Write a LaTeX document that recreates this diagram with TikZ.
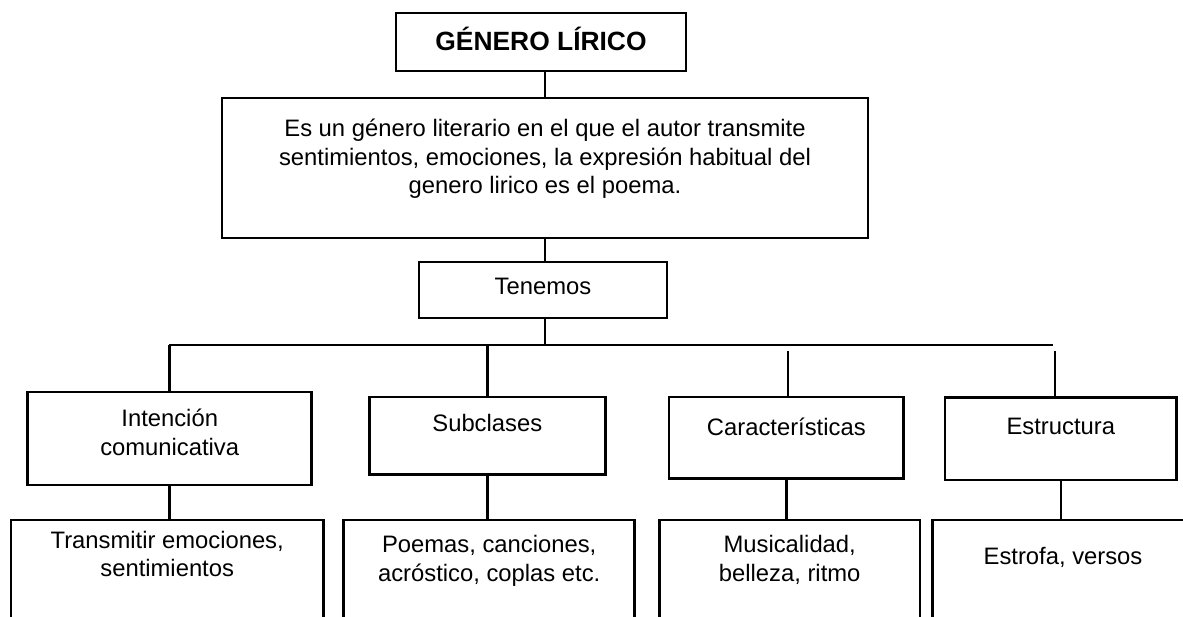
\documentclass[tikz,border=0pt]{standalone}
\usepackage{fontspec}
\setmainfont{Liberation Sans}
\newcommand{\bajar}[1]{\rule[-#1]{0pt}{#1}}

\begin{document}
\begin{tikzpicture}[x=0.5pt, y=-0.5pt, line width=1.3pt,
    caja/.style={draw, rectangle, align=center, inner sep=0pt,
        font=\fontsize{11.9}{14.2}\selectfont}]
\useasboundingbox (0,0) rectangle (1183,616);
\clip (0,0) rectangle (1183,616);

\node [caja, font=\fontsize{13.2}{15}\selectfont\bfseries, minimum width=145pt, minimum height=29pt] (titulo) at (541,42) {GÉNERO LÍRICO\bajar{3.7pt}};
\node [caja, minimum width=323pt, minimum height=70pt] (def) at (545,168)
    {Es un género literario en el que el autor transmite\\
     sentimientos, emociones, la expresión habitual del\\
     genero lirico es el poema.\bajar{11.55pt}};
\node [caja, minimum width=124pt, minimum height=28pt] (ten) at (543,290) {Tenemos\bajar{3.45pt}};

% segundo nivel
\node [caja, minimum width=142pt, minimum height=46.5pt] (int) at (169.7,438.5) {Intención\\comunicativa\bajar{6.25pt}};
\node [caja, minimum width=118pt, minimum height=38.7pt] (sub) at (487.3,435.7) {Subclases\bajar{12.5pt}};
\node [caja, minimum width=117.4pt, minimum height=40.7pt] (car) at (786.3,437.7) {Características\bajar{11.35pt}};
\node [caja, minimum width=115.9pt, minimum height=41.4pt] (est) at (1060.8,438.7) {Estructura\bajar{12.2pt}};

% tercer nivel
\node [caja, minimum width=156.2pt, minimum height=60pt] (int2) at (167.2,580) {Transmitir emociones,\\sentimientos\bajar{26.3pt}};
\node [caja, minimum width=145.5pt, minimum height=60pt] (sub2) at (489.2,580) {Poemas, canciones,\\acróstico, coplas etc.\bajar{21.55pt}};
\node [caja, minimum width=130.4pt, minimum height=60pt] (car2) at (789.7,580) {Musicalidad,\\belleza, ritmo\bajar{21.55pt}};
\node [caja, minimum width=130.3pt, minimum height=60pt] (est2) at (1063,580) {Estrofa, versos\bajar{23.65pt}};

\coordinate (busL) at (169,345);
\coordinate (busR) at (1053,345);
\coordinate (carTop) at (788,351);
\coordinate (estTop) at (1055,351);

\draw (def.north) -- (def.north |- titulo.south);
\draw (def.south) -- (def.south |- ten.north);
\draw (def.south |- ten.south) -- (def.south |- busL);
\draw (busL) -- (busR);
\draw (int.north |- busL) -- (int.north);
\draw (sub.north |- busL) -- (sub.north);
\draw (carTop) -- (carTop |- car.north);
\draw (estTop) -- (estTop |- est.north);

\draw (int.south) -- (int.south |- int2.north);
\draw (sub.south) -- (sub.south |- sub2.north);
\draw (car.south) -- (car.south |- car2.north);
\draw (est.south) -- (est.south |- est2.north);

\end{tikzpicture}
\end{document}
